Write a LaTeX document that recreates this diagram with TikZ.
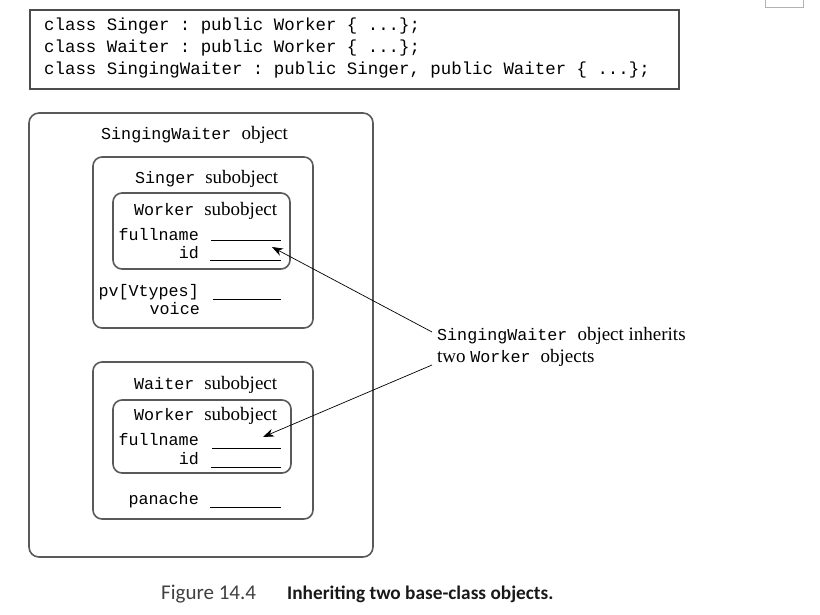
\documentclass[tikz,border=0pt]{standalone}
\usepackage{fontspec}
\setmainfont{Liberation Serif}
\setmonofont{Liberation Mono}
\newfontfamily\capfont{Carlito}
\tikzset{
  box/.style={draw=black!65, line width=1.6pt, rounded corners=9pt},
  codebox/.style={draw=black!70, line width=1.8pt},
  lbl/.style={inner sep=0pt, anchor=base west},
  blank/.style={line width=0.6pt, black},
  arr/.style={-{Stealth[length=11pt,width=8pt]}, line width=0.7pt},
}
\usetikzlibrary{arrows.meta}
\newcommand{\sr}{\fontsize{19}{22}\selectfont\rmfamily}
\newcommand{\mt}{\fontsize{16.7}{20}\selectfont\ttfamily}
\begin{document}
\begin{tikzpicture}[x=1pt,y=-1pt]
\useasboundingbox (0,0) rectangle (820,614);
% top-right fragment
\draw[black!30, line width=0.6pt] (765,0) -- (765,7) -- (803,7) -- (803,0);
% code box
\draw[codebox] (30,10) rectangle (679,89);
\node[lbl, font=\fontsize{17.4}{22}\selectfont\ttfamily] (c1) at (44,30) {class Singer : public Worker \{ ...\};};
\node[lbl, font=\fontsize{17.4}{22}\selectfont\ttfamily] (c2) at (44,52) {class Waiter : public Worker \{ ...\};};
\node[lbl, font=\fontsize{17.4}{22}\selectfont\ttfamily] (c3) at (44,74) {class SingingWaiter : public Singer, public Waiter \{ ...\};};
% outer box
\draw[box, rounded corners=10pt] (29,113) rectangle (373,557);
\node[lbl] (swt) at (101,139) {\mt SingingWaiter \sr object};
% Singer subobject
\draw[box] (93,157) rectangle (313,328);
\node[lbl] (sgt) at (135,183) {\mt Singer \sr subobject};
\draw[box] (113,193) rectangle (290,269);
\node[lbl] (w1t) at (134,215) {\mt Worker \sr subobject};
\node[inner sep=0pt, anchor=base east] (fn1) at (199,240) {\mt fullname};
\node[inner sep=0pt, anchor=base east] (id1) at (199,258) {\mt id};
\draw[blank] (211,240) -- (281,240);
\draw[blank] (210,260) -- (281,260);
\node[inner sep=0pt, anchor=base east] (pv) at (199,296) {\mt pv[Vtypes]};
\node[inner sep=0pt, anchor=base east] (vo) at (200,314) {\mt voice};
\draw[blank] (213,299) -- (281,299);
% Waiter subobject
\draw[box] (93,362) rectangle (313,519);
\node[lbl] (wtt) at (134,389) {\mt Waiter \sr subobject};
\draw[box] (113,400) rectangle (291,473);
\node[lbl] (w2t) at (134,420) {\mt Worker \sr subobject};
\node[inner sep=0pt, anchor=base east] (fn2) at (199,445) {\mt fullname};
\node[inner sep=0pt, anchor=base east] (id2) at (199,464) {\mt id};
\draw[blank] (212,448) -- (281,448);
\draw[blank] (211,467) -- (281,467);
\node[inner sep=0pt, anchor=base east] (pa) at (199,504) {\mt panache};
\draw[blank] (210,507) -- (281,507);
% annotation
\node[lbl] (n1) at (437,340) {\mt SingingWaiter \sr object inherits};
\node[lbl] (n2) at (437,362) {\sr two \mt Worker \sr objects};
\coordinate (s1) at (432,332);
\coordinate (t1) at (272,247);
\coordinate (s2) at (432,365);
\coordinate (t2) at (263,437);
\draw[arr] (s1) -- (t1);
\draw[arr] (s2) -- (t2);
% caption
\node[lbl, font=\capfont\fontsize{21}{24}\selectfont, text=black!75] (fig) at (161,599) {Figure 14.4};
\node[lbl, font=\capfont\bfseries\fontsize{19.3}{24}\selectfont, text=black!90] (cap) at (287,599) {Inheriting two base-class objects.};
\end{tikzpicture}
\end{document}
